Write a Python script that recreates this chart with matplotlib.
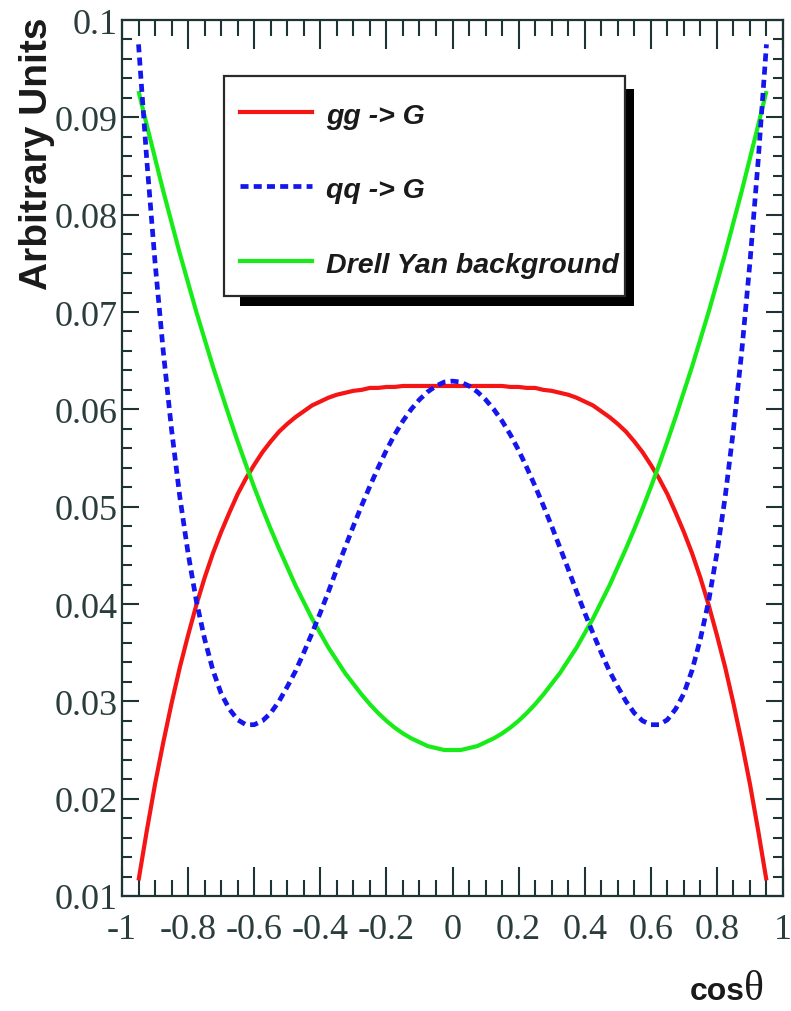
import matplotlib
matplotlib.use("Agg")
import matplotlib.pyplot as plt
from matplotlib.ticker import MultipleLocator
from matplotlib.patches import Rectangle
from matplotlib.lines import Line2D

# ---------------------------------------------------------------- data
cos_theta = [-0.95, -0.925, -0.9, -0.875, -0.85, -0.825, -0.8, -0.775, -0.75, -0.725,
             -0.7, -0.675, -0.65, -0.625, -0.6, -0.575, -0.55, -0.525, -0.5, -0.475,
             -0.45, -0.425, -0.4, -0.375, -0.35, -0.325, -0.3, -0.275, -0.25, -0.225,
             -0.2, -0.175, -0.15, -0.125, -0.1, -0.075, -0.05, -0.025, 0.0,
             0.025, 0.05, 0.075, 0.1, 0.125, 0.15, 0.175, 0.2, 0.225, 0.25,
             0.275, 0.3, 0.325, 0.35, 0.375, 0.4, 0.425, 0.45, 0.475, 0.5,
             0.525, 0.55, 0.575, 0.6, 0.625, 0.65, 0.675, 0.7, 0.725, 0.75,
             0.775, 0.8, 0.825, 0.85, 0.875, 0.9, 0.925, 0.95]

gg_G = [0.0116, 0.0167, 0.0215, 0.0258, 0.0298, 0.0335, 0.0368, 0.0399, 0.0427, 0.0452,
        0.0474, 0.0494, 0.0513, 0.0529, 0.0543, 0.0556, 0.0567, 0.0577, 0.0585, 0.0592,
        0.0598, 0.0604, 0.0608, 0.0612, 0.0615, 0.0617, 0.0619, 0.0620, 0.0622, 0.0622,
        0.0623, 0.0623, 0.0624, 0.0624, 0.0624, 0.0624, 0.0624, 0.0624, 0.0624,
        0.0624, 0.0624, 0.0624, 0.0624, 0.0624, 0.0624, 0.0623, 0.0623, 0.0622, 0.0622,
        0.0620, 0.0619, 0.0617, 0.0615, 0.0612, 0.0608, 0.0604, 0.0598, 0.0592, 0.0585,
        0.0577, 0.0567, 0.0556, 0.0543, 0.0529, 0.0513, 0.0494, 0.0474, 0.0452, 0.0427,
        0.0399, 0.0368, 0.0335, 0.0298, 0.0258, 0.0215, 0.0167, 0.0116]

qq_G = [0.0975, 0.0856, 0.0751, 0.0659, 0.0579, 0.0510, 0.0452, 0.0403, 0.0364, 0.0332,
        0.0308, 0.0292, 0.0281, 0.0276, 0.0276, 0.0280, 0.0288, 0.0300, 0.0315, 0.0331,
        0.0350, 0.0370, 0.0391, 0.0413, 0.0436, 0.0458, 0.0480, 0.0501, 0.0521, 0.0540,
        0.0558, 0.0574, 0.0588, 0.0600, 0.0610, 0.0618, 0.0624, 0.0628, 0.0629,
        0.0628, 0.0624, 0.0618, 0.0610, 0.0600, 0.0588, 0.0574, 0.0558, 0.0540, 0.0521,
        0.0501, 0.0480, 0.0458, 0.0436, 0.0413, 0.0391, 0.0370, 0.0350, 0.0331, 0.0315,
        0.0300, 0.0288, 0.0280, 0.0276, 0.0276, 0.0281, 0.0292, 0.0308, 0.0332, 0.0364,
        0.0403, 0.0452, 0.0510, 0.0579, 0.0659, 0.0751, 0.0856, 0.0975]

drell_yan = [0.0927, 0.0892, 0.0858, 0.0824, 0.0792, 0.0760, 0.0730, 0.0700, 0.0672, 0.0644,
             0.0618, 0.0592, 0.0567, 0.0543, 0.0520, 0.0498, 0.0477, 0.0457, 0.0438, 0.0419,
             0.0402, 0.0385, 0.0370, 0.0355, 0.0342, 0.0329, 0.0318, 0.0307, 0.0297, 0.0288,
             0.0280, 0.0273, 0.0267, 0.0262, 0.0258, 0.0254, 0.0252, 0.0250, 0.0250,
             0.0250, 0.0252, 0.0254, 0.0258, 0.0262, 0.0267, 0.0273, 0.0280, 0.0288, 0.0297,
             0.0307, 0.0318, 0.0329, 0.0342, 0.0355, 0.0370, 0.0385, 0.0402, 0.0419, 0.0438,
             0.0457, 0.0477, 0.0498, 0.0520, 0.0543, 0.0567, 0.0592, 0.0618, 0.0644, 0.0672,
             0.0700, 0.0730, 0.0760, 0.0792, 0.0824, 0.0858, 0.0892, 0.0927]

xticks = [-1, -0.8, -0.6, -0.4, -0.2, 0, 0.2, 0.4, 0.6, 0.8, 1]
xtick_labels = ["-1", "-0.8", "-0.6", "-0.4", "-0.2", "0", "0.2", "0.4", "0.6", "0.8", "1"]
yticks = [0.01, 0.02, 0.03, 0.04, 0.05, 0.06, 0.07, 0.08, 0.09, 0.1]
ytick_labels = ["0.01", "0.02", "0.03", "0.04", "0.05", "0.06", "0.07", "0.08", "0.09", "0.1"]

legend_labels = ["gg -> G", "qq -> G", "Drell Yan background"]

# ---------------------------------------------------------------- style
W, H = 791, 1012
axcol = "#1e3434"
red = "#f51515"
blue = "#1515ee"
green = "#18ec18"
blue_dash = (1.7, 1.1)

fig = plt.figure(figsize=(W / 100, H / 100), dpi=100)
ax = fig.add_axes([122 / W, 1 - 897 / H, 661 / W, 876 / H])

ax.plot(cos_theta, gg_G, color=red, lw=3.0, solid_capstyle="butt", zorder=3)
ax.plot(cos_theta, drell_yan, color=green, lw=3.0, solid_capstyle="butt", zorder=4)
ax.plot(cos_theta, qq_G, color=blue, lw=3.4, dashes=blue_dash, dash_capstyle="butt", zorder=5)

ax.set_xlim(-1, 1)
ax.set_ylim(0.01, 0.1)

ax.set_xticks(xticks)
ax.set_xticklabels(xtick_labels)
ax.set_yticks(yticks)
ax.set_yticklabels(ytick_labels)
ax.xaxis.set_minor_locator(MultipleLocator(0.05))
ax.yaxis.set_minor_locator(MultipleLocator(0.002))

for sp in ax.spines.values():
    sp.set_color(axcol)
    sp.set_linewidth(1.6)

ax.tick_params(axis="x", which="both", direction="in", top=True, bottom=True,
               color=axcol, width=1.5, labelcolor="#2a3c3c", labelsize=26,
               pad=12)
ax.tick_params(axis="x", which="major", length=21)
ax.tick_params(axis="x", which="minor", length=11.5)
ax.tick_params(axis="y", which="both", direction="in", left=True, right=True,
               color=axcol, width=1.5, labelcolor="#2a3c3c", labelsize=26,
               pad=3)
ax.tick_params(axis="y", which="major", length=12.5)
ax.tick_params(axis="y", which="minor", length=7.5)
for lab in ax.get_xticklabels() + ax.get_yticklabels():
    lab.set_family("Liberation Serif")

# axis titles
fig.text(37 / W, 1 - 18 / H, "Arbitrary Units", rotation=90, ha="center", va="top",
         family="Liberation Sans", weight="bold", fontsize=28, color="#1a1a1a")
fig.text(690 / W, 1 - 1000 / H, "cos", ha="left", va="baseline",
         family="Liberation Sans", weight="bold", fontsize=23, color="#1a1a1a")
fig.text(744 / W, 1 - 1000 / H, "θ", ha="left", va="baseline",
         family="Liberation Serif", fontsize=30, color="#1a1a1a")

# legend box with shadow (ROOT style)
def px_rect(x0, y0, x1, y1, **kw):
    return Rectangle((x0 / W, 1 - y1 / H), (x1 - x0) / W, (y1 - y0) / H,
                     transform=fig.transFigure, **kw)

fig.add_artist(px_rect(240, 90, 634, 307, facecolor="black", edgecolor="none", zorder=10))
fig.add_artist(px_rect(224, 77, 625, 297, facecolor="white", edgecolor="#2a2a2a",
                       linewidth=1.6, zorder=11))

entry_y = [113, 187, 262]
entry_style = [dict(color=red, lw=3.0), dict(color=blue, lw=3.4, dashes=blue_dash),
               dict(color=green, lw=3.0)]
for yy, lab, st in zip(entry_y, legend_labels, entry_style):
    fig.add_artist(Line2D([240 / W, 312 / W], [1 - yy / H, 1 - yy / H],
                          transform=fig.transFigure, zorder=12, **st))
    fig.text(326 / W, 1 - (yy + 4) / H, lab, ha="left", va="center",
             family="Liberation Sans", weight="bold", style="italic",
             fontsize=20.5, color="#1a1a1a", zorder=12)

fig.savefig("out.png", dpi=100)
